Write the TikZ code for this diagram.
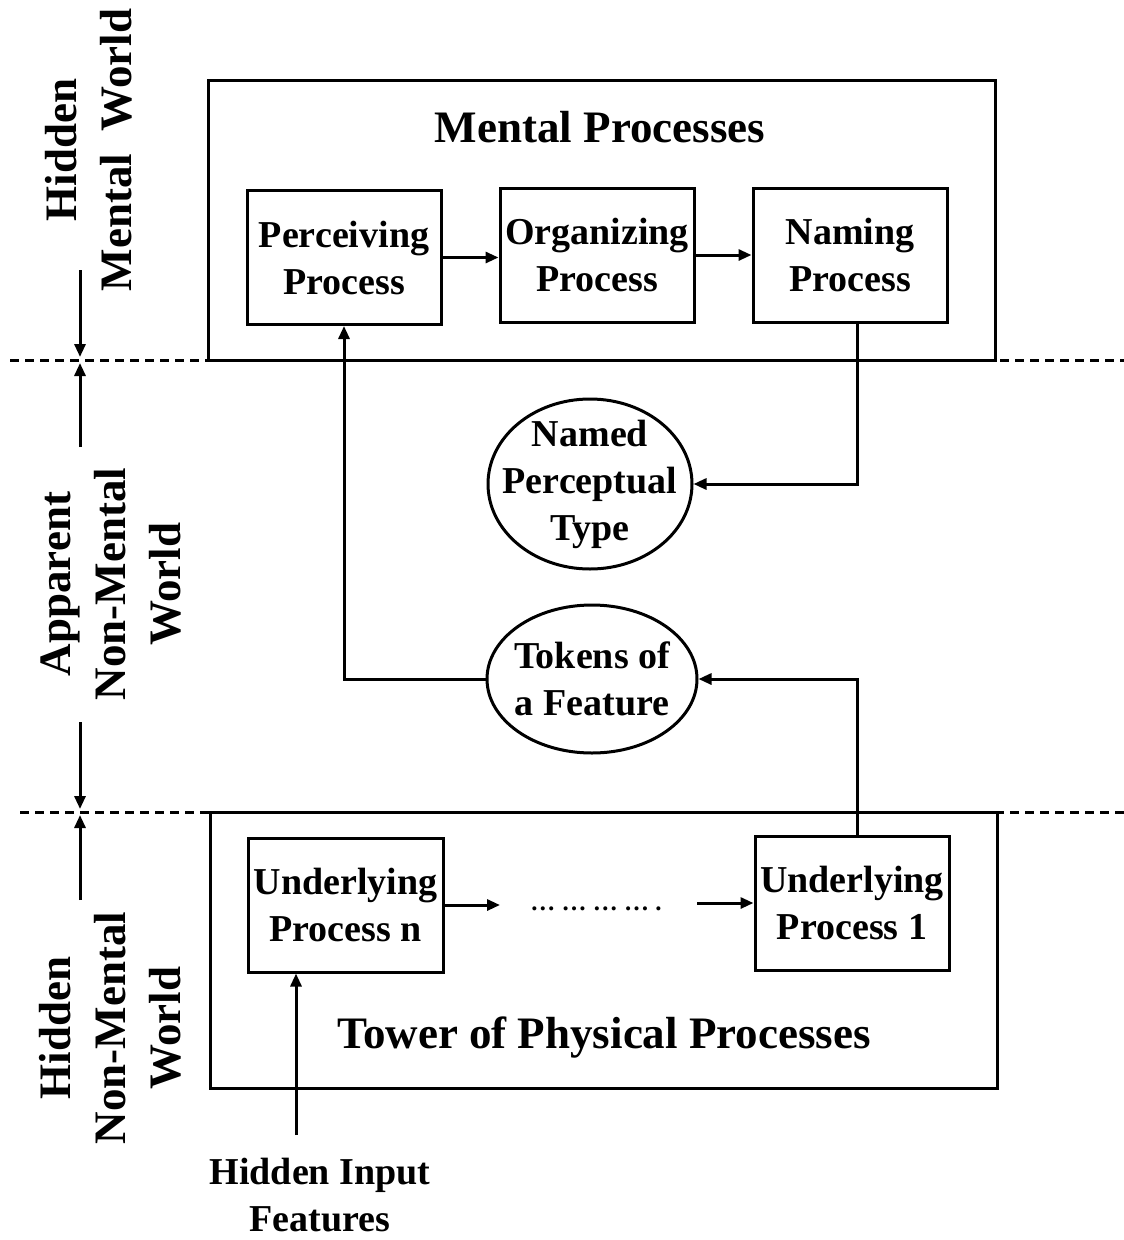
\documentclass[tikz,border=0pt]{standalone}
\usepackage{fontspec}
\setmainfont{Liberation Serif}
\usetikzlibrary{arrows.meta,shapes.geometric}
\begin{document}
\begin{tikzpicture}[x=1pt,y=-1pt,
  line width=3pt,
  body/.style={font=\fontsize{38}{47}\selectfont\bfseries, align=center, inner sep=0pt},
  big/.style={font=\fontsize{45}{55}\selectfont\bfseries, align=center, inner sep=0pt},
  procbox/.style={body, draw, minimum width=194pt, minimum height=134pt},
  framebox/.style={draw, inner sep=0pt},
  oval/.style={draw, ellipse, inner sep=0pt},
  arr/.style={-{Triangle[length=13pt,width=11pt]}},
  divider/.style={dash pattern=on 9pt off 6pt},
  sidelabel/.style={big, rotate=90, anchor=south},
]
\useasboundingbox (0,0) rectangle (1124,1240);

% outer frames
\node[framebox, minimum width=787pt, minimum height=280pt] (mental) at (601.5,220) {};
\node[framebox, minimum width=787pt, minimum height=276pt] (tower) at (603.5,950) {};

% world dividers
\coordinate (d1a) at (10,360);  \coordinate (d1b) at (1124,360);
\coordinate (d2a) at (20,812);  \coordinate (d2b) at (1124,812);
\draw[divider] (d1a) -- (d1b);
\draw[divider] (d2a) -- (d2b);

% titles
\node[big] (mtitle) at (600,127) {Mental Processes};
\node[big] (ttitle) at (604,1037) {Tower of Physical Processes};

% mental processes
\node[procbox] (perc) at (344,257.5) {Perceiving\\Process};
\node[procbox] (org)  at (597,255)   {Organizing\\Process};
\node[procbox] (nam)  at (850,255)   {Naming\\Process};

% apparent world: ovals with their texts laid on top
\node[oval, minimum width=204pt, minimum height=170pt] (named)  at (590,484) {};
\node[body] (namedtext) at (named) {Named\\Perceptual\\Type};
\node[oval, minimum width=210pt, minimum height=148pt] (tokens) at (592,679) {};
\node[body] (tokenstext) at (tokens) {Tokens of\\a Feature};

% physical processes
\node[procbox, minimum width=195pt] (upn) at (345.5,905) {Underlying\\Process n};
\node[procbox] (up1) at (852,903) {Underlying\\Process 1};
\node[font=\fontsize{25}{30}\selectfont\bfseries, inner sep=0pt, anchor=base] (dots) at (596,910) {… … … … .};

% input
\node[body, anchor=north] (input) at (320,1157) {Hidden Input\\Features};

% side labels
\node[sidelabel] (hmw)  at (134,150)  {Hidden\\Mental\ \ World};
\node[sidelabel] (anmw) at (183,584)  {Apparent\\Non-Mental\\World};
\node[sidelabel] (hnmw) at (183,1028) {Hidden\\Non-Mental\\World};

% extent markers
\coordinate (m1) at (80,270);  \coordinate (t1) at (80,357);
\coordinate (m2) at (80,447);  \coordinate (t2) at (80,363);
\coordinate (m3) at (80,722);  \coordinate (t3) at (80,809);
\coordinate (m4) at (80,900);  \coordinate (t4) at (80,815);
\draw[arr] (m1) -- (t1);
\draw[arr] (m2) -- (t2);
\draw[arr] (m3) -- (t3);
\draw[arr] (m4) -- (t4);

% flow
\draw[arr] (perc.east) -- (perc.east -| org.west);
\draw[arr] (org.east) -- (nam.west);
\draw[arr] ([xshift=7pt]nam.south) |- (named.east);
\draw[arr] (tokens.west) -| (perc.south);
\draw[arr] ([xshift=5pt]up1.north) |- (tokens.east);
\coordinate (gapL) at (500,905);
\coordinate (gapR) at (697,903);
\draw[arr] (upn.east) -- (gapL);
\draw[arr] (gapR) -- (up1.west);
\coordinate (inp) at (296,1135);
\draw[arr] (inp) -- (inp |- upn.south);
\end{tikzpicture}
\end{document}
